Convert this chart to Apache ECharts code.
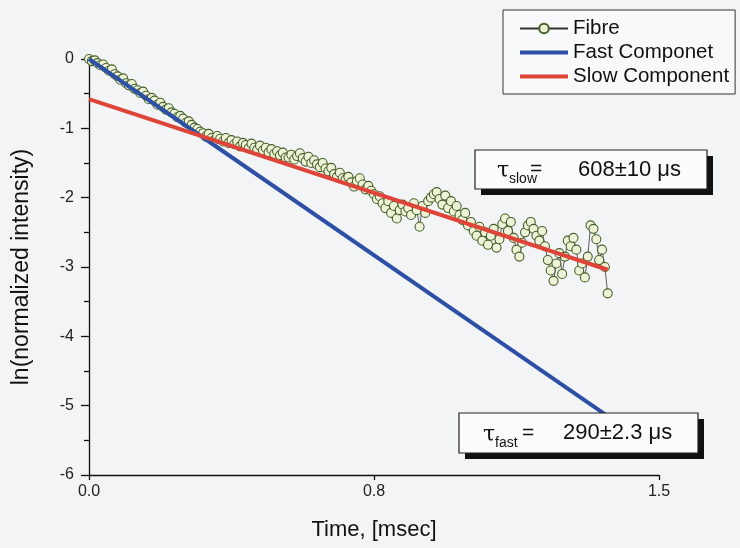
<!DOCTYPE html>
<html>
<head>
<meta charset="utf-8">
<script src="https://cdn.jsdelivr.net/npm/echarts@6/dist/echarts.min.js"></script>
<style>
  html, body { margin: 0; padding: 0; background: #f3f4f6; }
  #chart { width: 740px; height: 548px; }
</style>
</head>
<body>
<div id="chart"></div>
<script>
// Luminescence decay of the fibre sample, ln(normalized intensity) vs time
const DT = 0.0075; // sampling step, msec
const fibreValues = [
  0.00, -0.03, -0.02, -0.06, -0.09, -0.08, -0.13, -0.17, -0.15, -0.22,
  -0.25, -0.30, -0.28, -0.35, -0.38, -0.36, -0.43, -0.45, -0.49, -0.47,
  -0.53, -0.58, -0.56, -0.60, -0.66, -0.63, -0.69, -0.73, -0.71, -0.77,
  -0.79, -0.84, -0.82, -0.86, -0.92, -0.90, -0.95, -0.99, -1.01, -1.05,
  -1.07, -1.12, -1.08, -1.14, -1.17, -1.11, -1.15, -1.19, -1.14, -1.21,
  -1.17, -1.23, -1.19, -1.26, -1.21, -1.24, -1.29, -1.22, -1.28, -1.31,
  -1.25, -1.32, -1.28, -1.35, -1.30, -1.37, -1.33, -1.39, -1.35, -1.42,
  -1.42, -1.38, -1.45, -1.40, -1.36, -1.43, -1.48, -1.41, -1.50, -1.46,
  -1.52, -1.56, -1.50, -1.58, -1.62, -1.57, -1.66, -1.70, -1.64, -1.72,
  -1.74, -1.70, -1.78, -1.84, -1.76, -1.72, -1.81, -1.88, -1.83, -1.90,
  -1.95, -2.02, -1.98, -2.08, -2.15, -2.05, -2.22, -2.12, -2.30, -2.18,
  -2.10, -2.20, -2.15, -2.25, -2.08, -2.18, -2.42, -2.12, -2.22, -2.05,
  -2.00, -1.95, -1.92, -2.02, -2.10, -1.97, -2.15, -2.05, -2.20, -2.12,
  -2.25, -2.32, -2.22, -2.40, -2.35, -2.48, -2.55, -2.42, -2.62, -2.50,
  -2.68, -2.55, -2.45, -2.72, -2.60, -2.38, -2.30, -2.48, -2.35, -2.58,
  -2.75, -2.85, -2.65, -2.50, -2.40, -2.35, -2.45, -2.55, -2.62, -2.48,
  -2.70, -2.90, -3.05, -3.20, -2.95, -2.80, -3.10, -2.85, -2.62, -2.70,
  -2.58, -2.75, -3.05, -2.95, -3.15, -2.85, -2.40, -2.45, -2.60, -2.90,
  -2.75, -3.00, -3.38
];
// Single-exponential fits (ln scale → straight lines)
const fastFit = [[0, 0], [1.365, -5.15]];
const slowFit = [[0, -0.58], [1.365, -3.04]];

const xTicks = { min: 0, max: 1.5, step: 0.75 };
const yTicks = { min: -6, max: 0, step: 1 };

const seriesNames = ['Fibre', 'Fast Componet', 'Slow Component'];
const slowLabel = { sub: 'slow', value: '608\u00B110 \u03BCs' };
const fastLabel = { sub: 'fast', value: '290\u00B12.3 \u03BCs' };

const fibreData = fibreValues.map((v, i) => [i * DT, v]);

const FONT = 'Liberation Sans, Arial, Helvetica, sans-serif';
const BAR_ICON = 'path://M0,0H48V4H0Z';
const chart = echarts.init(document.getElementById('chart'), null, { renderer: 'canvas' });

function tauBox(x, y, w, h, lab, tauX, subX, eqX, valX) {
  const cy = y + h / 2;
  return {
    type: 'group',
    z: 100,
    children: [
      { type: 'rect', shape: { x: x + 6, y: y + 6, width: w, height: h }, style: { fill: '#111' }, z: 100 },
      { type: 'rect', shape: { x: x, y: y, width: w, height: h }, style: { fill: '#fbfbfc', stroke: '#222', lineWidth: 1.2 }, z: 101 },
      { type: 'text', x: tauX, y: cy + 2, z: 102, style: { text: '\u03C4', font: '22px DejaVu Serif, serif', fill: '#111', verticalAlign: 'middle' } },
      { type: 'text', x: subX, y: cy + 10, z: 102, style: { text: lab.sub, font: '14px ' + FONT, fill: '#111', verticalAlign: 'middle' } },
      { type: 'text', x: eqX, y: cy, z: 102, style: { text: '=', font: '21px ' + FONT, fill: '#111', verticalAlign: 'middle' } },
      { type: 'text', x: valX, y: cy, z: 102, style: { text: lab.value, font: '22px ' + FONT, fill: '#111', verticalAlign: 'middle' } }
    ]
  };
}

chart.setOption({
  backgroundColor: '#f3f4f6',
  animation: false,
  grid: { left: 89, right: 81, top: 59, bottom: 73 },
  legend: {
    orient: 'vertical',
    left: 503,
    top: 10,
    data: [
      { name: seriesNames[0] },
      { name: seriesNames[1], icon: BAR_ICON },
      { name: seriesNames[2], icon: BAR_ICON }
    ],
    itemWidth: 48,
    itemHeight: 12,
    itemGap: 3,
    padding: [8, 6, 7, 16],
    borderColor: '#333',
    borderWidth: 1,
    backgroundColor: '#f8f9fa',
    textStyle: { fontFamily: FONT, fontSize: 20.5, color: '#111' }
  },
  xAxis: {
    type: 'value',
    min: xTicks.min,
    max: xTicks.max,
    interval: xTicks.step,
    name: 'Time, [msec]',
    nameLocation: 'middle',
    nameGap: 44,
    nameTextStyle: { fontFamily: FONT, fontSize: 22, color: '#111' },
    axisLine: { onZero: false, lineStyle: { color: '#111', width: 1.3 } },
    axisTick: { length: 5, lineStyle: { color: '#111', width: 1.3 } },
    axisLabel: { margin: 9, fontFamily: FONT, fontSize: 16, color: '#222', formatter: v => v.toFixed(1) },
    splitLine: { show: false }
  },
  yAxis: {
    type: 'value',
    min: yTicks.min,
    max: yTicks.max,
    interval: yTicks.step,
    name: 'ln(normalized intensity)',
    nameLocation: 'middle',
    nameGap: 56,
    nameTextStyle: { fontFamily: FONT, fontSize: 23, color: '#111' },
    axisLine: { onZero: false, lineStyle: { color: '#111', width: 1.3 } },
    axisTick: { length: 8, lineStyle: { color: '#111', width: 1.3 } },
    minorTick: { show: true, splitNumber: 2, length: 5, lineStyle: { color: '#111', width: 1.3 } },
    axisLabel: { margin: 15, fontFamily: FONT, fontSize: 16, color: '#222' },
    splitLine: { show: false }
  },
  series: [
    {
      name: seriesNames[0],
      type: 'line',
      data: fibreData,
      z: 2,
      symbol: 'circle',
      symbolSize: 9,
      showSymbol: true,
      lineStyle: { color: '#333', width: 0.8 },
      itemStyle: { color: '#eef3d8', borderColor: '#46602a', borderWidth: 1.1 }
    },
    {
      name: seriesNames[1],
      type: 'line',
      data: fastFit,
      z: 3,
      symbol: 'none',
      lineStyle: { color: '#2d4fa5', width: 4 },
      itemStyle: { color: '#2d4fa5' }
    },
    {
      name: seriesNames[2],
      type: 'line',
      data: slowFit,
      z: 4,
      symbol: 'none',
      lineStyle: { color: '#de4538', width: 4 },
      itemStyle: { color: '#de4538' }
    }
  ],
  graphic: [
    tauBox(475, 150, 232, 39, slowLabel, 497, 509, 530, 578),
    tauBox(459, 413, 239, 40, fastLabel, 483, 495, 522, 563)
  ]
});
</script>
</body>
</html>
